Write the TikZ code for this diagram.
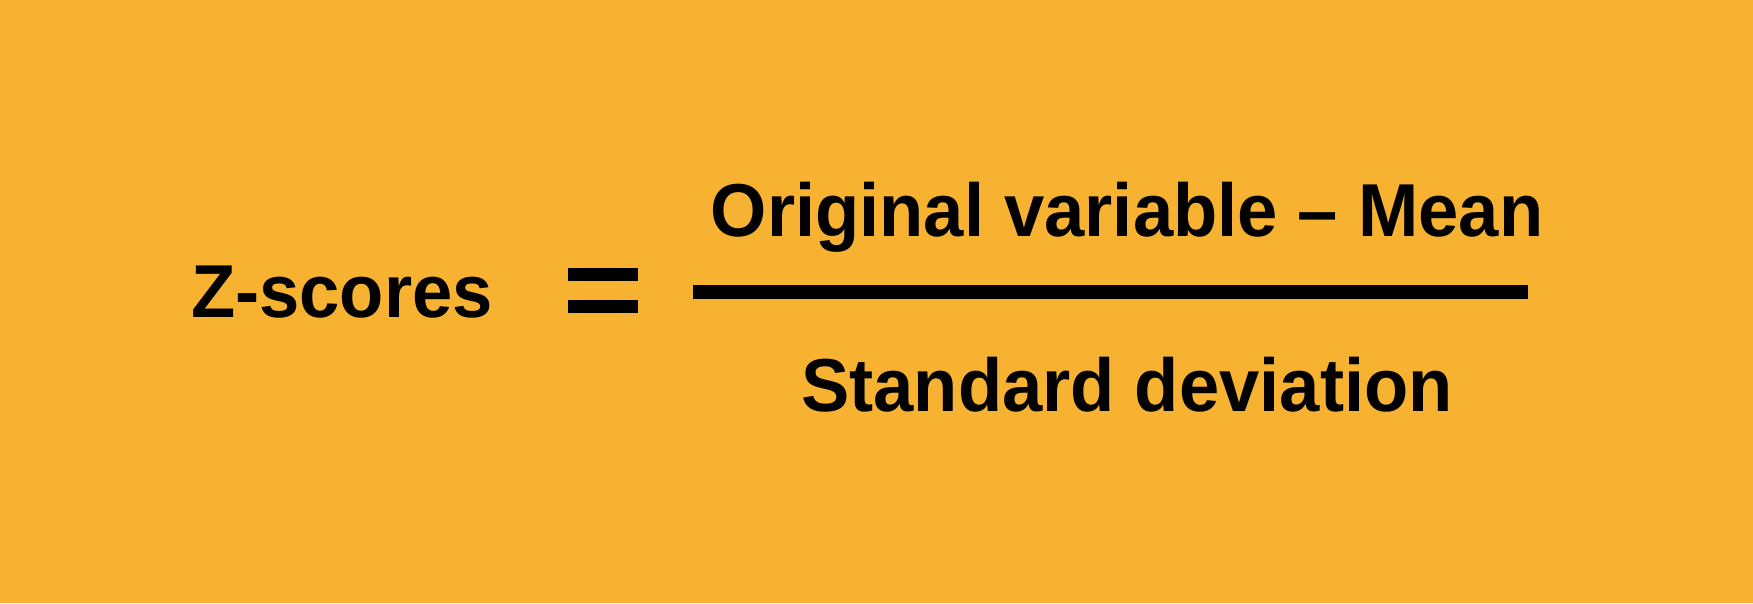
\documentclass[tikz,border=0pt]{standalone}
\usepackage{fontspec}
\setmainfont{Liberation Sans}
\newfontfamily\narrowsans[FakeStretch=0.965]{Liberation Sans}
\definecolor{bgorange}{HTML}{F7B232}
\begin{document}
\begin{tikzpicture}[x=1pt,y=-1pt,
  bigtext/.style={inner sep=0pt,outer sep=0pt,anchor=base,font=\narrowsans\fontsize{75}{90}\selectfont\bfseries,text=black},
  barstyle/.style={fill=black,draw=none}]
\useasboundingbox (0,0) rectangle (1753,603);
\fill[bgorange] (0,0) rectangle (1753,603);
\node[bigtext] (lhs) at (342,317) {Z-scores};
\fill[barstyle] (567.5,268) rectangle (637.5,280.5);
\fill[barstyle] (567.5,300) rectangle (637.5,312.5);
\fill[barstyle] (693,285) rectangle (1528,299);
\node[bigtext] (num) at (1127,236) {Original variable – Mean};
\node[bigtext] (den) at (1127,411) {Standard deviation};
\end{tikzpicture}
\end{document}
